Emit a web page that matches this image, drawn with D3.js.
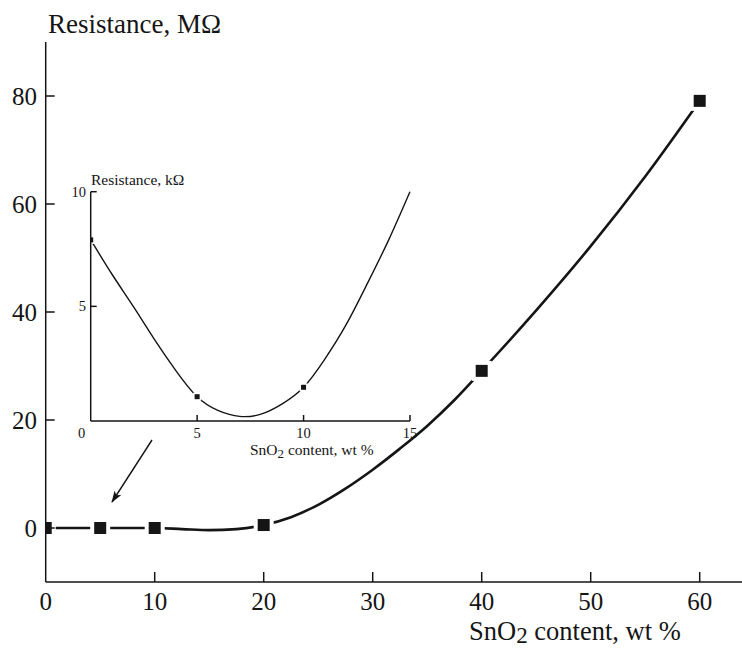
<!DOCTYPE html>
<html><head><meta charset="utf-8">
<script src="https://cdn.jsdelivr.net/npm/d3@7"></script>
</head>
<body style="margin:0;background:#fff">
<svg id="c" width="742" height="648" style="display:block"></svg>
<script>
// ---- main chart data ----
const mainPointsX = [0, 5, 10, 20, 40, 60];
const mainPointsY = [0, 0, 0, 0.55, 29.1, 79.1];
const mainCurveX = [0,2.5,5,7.5,10,12.5,15,17.5,20,22.5,25,27.5,30,32.5,35,37.5,40,45,50,55,60];
const mainCurveY = [0,0,0,0,0,-0.2,-0.4,-0.2,0.55,2.0,4.3,7.3,10.8,14.7,18.9,23.7,29.1,40.3,52.2,65.1,79.1];
const mainXTicks = [10, 20, 30, 40, 50, 60];
const mainXTickLabels = [0, 10, 20, 30, 40, 50, 60];
const mainYTicks = [0, 20, 40, 60, 80];
// ---- inset data ----
const insetPointsX = [0, 5, 10];
const insetPointsY = [7.9, 1.06, 1.47];
const insetCurveX = [0,1,2,3,4,5,6,7,8,9,10,11,12,13,14,15];
const insetCurveY = [7.9,6.4,5.0,3.55,2.2,1.06,0.45,0.2,0.3,0.75,1.47,2.7,4.2,6.0,7.9,10];
const insetXTicks = [5, 10, 15];
const insetXTickLabels = [0, 5, 10, 15];
const insetYTicks = [5, 10];

const ink = "#151515";
const FONT = "'Liberation Serif'";
const svg = d3.select("#c");

// scales
const x = d3.scaleLinear().domain([0, 64]).range([45.7, 45.7 + 64 * 10.9]);
const y = d3.scaleLinear().domain([-10, 90]).range([582, 42]);
const ix = d3.scaleLinear().domain([0, 15]).range([90.7, 410]);
const iy = d3.scaleLinear().domain([0, 10]).range([421, 191.7]);

const defs = svg.append("defs");
defs.append("clipPath").attr("id", "mainClip").append("rect")
  .attr("x", x(0)).attr("y", 0).attr("width", 742).attr("height", y(-10));
defs.append("clipPath").attr("id", "insetClip").append("rect")
  .attr("x", ix(0)).attr("y", 150).attr("width", 400).attr("height", iy(0) - 150);
defs.append("marker").attr("id", "arrowHead").attr("viewBox", "0 0 12 8")
  .attr("refX", 11).attr("refY", 4).attr("markerWidth", 12).attr("markerHeight", 8)
  .attr("markerUnits", "userSpaceOnUse").attr("orient", "auto")
  .append("path").attr("d", "M0,0 L12,4 L0,8 L3,4 Z").attr("fill", ink);

function txt(sel) { return sel.style("font-family", FONT).attr("fill", ink); }

// ---- main curve ----
const mainLine = d3.line().x((d, i) => x(mainCurveX[i])).y(d => y(d)).curve(d3.curveMonotoneX);
svg.append("path").attr("d", mainLine(mainCurveY)).attr("fill", "none")
  .attr("stroke", ink).attr("stroke-width", 2.6).attr("clip-path", "url(#mainClip)");

const ms = 12;
svg.append("g").attr("clip-path", "url(#mainClip)").selectAll("rect").data(mainPointsY).join("rect")
  .attr("x", (d, i) => x(mainPointsX[i]) - ms / 2).attr("y", d => y(d) - ms / 2)
  .attr("width", ms).attr("height", ms).attr("fill", ink)
  .attr("stroke", "#fff").attr("stroke-width", 8).attr("paint-order", "stroke");

// ---- main axes ----
const axG = svg.append("g").attr("stroke", ink).attr("stroke-width", 1.5);
axG.append("line").attr("x1", x(0)).attr("x2", 742).attr("y1", y(-10)).attr("y2", y(-10));
axG.append("line").attr("x1", x(0)).attr("x2", x(0)).attr("y1", y(-10)).attr("y2", 42);
axG.selectAll(".xt").data(mainXTicks).join("line").attr("class", "xt")
  .attr("x1", d => x(d)).attr("x2", d => x(d)).attr("y1", y(-10)).attr("y2", y(-10) - 10);
axG.selectAll(".yt").data(mainYTicks).join("line").attr("class", "yt")
  .attr("x1", x(0)).attr("x2", x(0) + 9).attr("y1", d => y(d)).attr("y2", d => y(d));

txt(svg.append("g").selectAll("text").data(mainXTickLabels).join("text")
  .attr("x", d => x(d)).attr("y", 610).attr("text-anchor", "middle")
  .attr("font-size", 25)).text(d => d);
txt(svg.append("g").selectAll("text").data(mainYTicks).join("text")
  .attr("x", 37).attr("y", d => y(d) + 8.5).attr("text-anchor", "end")
  .attr("font-size", 25)).text(d => d);

txt(svg.append("text").attr("x", 48).attr("y", 33).attr("font-size", 27)).text("Resistance, MΩ");
const xt = txt(svg.append("text").attr("x", 469).attr("y", 640).attr("font-size", 26.5));
xt.append("tspan").text("SnO");
xt.append("tspan").attr("dy", 3).attr("font-size", 23).text("2");
xt.append("tspan").attr("dy", -3).text(" content, wt %");

// ---- arrow ----
svg.append("line").attr("x1", 152).attr("y1", 440).attr("x2", 112).attr("y2", 502)
  .attr("stroke", ink).attr("stroke-width", 1.4).attr("marker-end", "url(#arrowHead)");

// ---- inset ----
const insetLine = d3.line().x((d, i) => ix(insetCurveX[i])).y(d => iy(d)).curve(d3.curveNatural);
svg.append("path").attr("d", insetLine(insetCurveY)).attr("fill", "none")
  .attr("stroke", ink).attr("stroke-width", 1.4).attr("clip-path", "url(#insetClip)");
const is = 5;
svg.append("g").attr("clip-path", "url(#insetClip)").selectAll("rect").data(insetPointsY).join("rect")
  .attr("x", (d, i) => ix(insetPointsX[i]) - is / 2).attr("y", d => iy(d) - is / 2)
  .attr("width", is).attr("height", is).attr("fill", ink)
  .attr("stroke", "#fff").attr("stroke-width", 3).attr("paint-order", "stroke");

const iaxG = svg.append("g").attr("stroke", ink).attr("stroke-width", 1.5);
iaxG.append("line").attr("x1", ix(0)).attr("x2", ix(15)).attr("y1", iy(0)).attr("y2", iy(0));
iaxG.append("line").attr("x1", ix(0)).attr("x2", ix(0)).attr("y1", iy(0)).attr("y2", iy(10));
iaxG.selectAll(".ixt").data(insetXTicks).join("line").attr("class", "ixt")
  .attr("x1", d => ix(d)).attr("x2", d => ix(d)).attr("y1", iy(0)).attr("y2", iy(0) - 6);
iaxG.selectAll(".iyt").data(insetYTicks).join("line").attr("class", "iyt")
  .attr("x1", ix(0)).attr("x2", ix(0) + 6).attr("y1", d => iy(d)).attr("y2", d => iy(d));

txt(svg.append("g").selectAll("text").data(insetXTickLabels).join("text")
  .attr("x", d => d === 0 ? ix(0) - 9 : ix(d)).attr("y", 438).attr("text-anchor", "middle")
  .attr("font-size", 14.5)).text(d => d);
txt(svg.append("g").selectAll("text").data(insetYTicks).join("text")
  .attr("x", 86).attr("y", d => iy(d) + 5).attr("text-anchor", "end")
  .attr("font-size", 14.5)).text(d => d);

txt(svg.append("text").attr("x", 91).attr("y", 185).attr("font-size", 15.5)).text("Resistance, kΩ");
const ixt = txt(svg.append("text").attr("x", 250).attr("y", 455).attr("font-size", 15.5));
ixt.append("tspan").text("SnO");
ixt.append("tspan").attr("dy", 3).attr("font-size", 13).text("2");
ixt.append("tspan").attr("dy", -3).text(" content, wt %");
</script></body></html>
